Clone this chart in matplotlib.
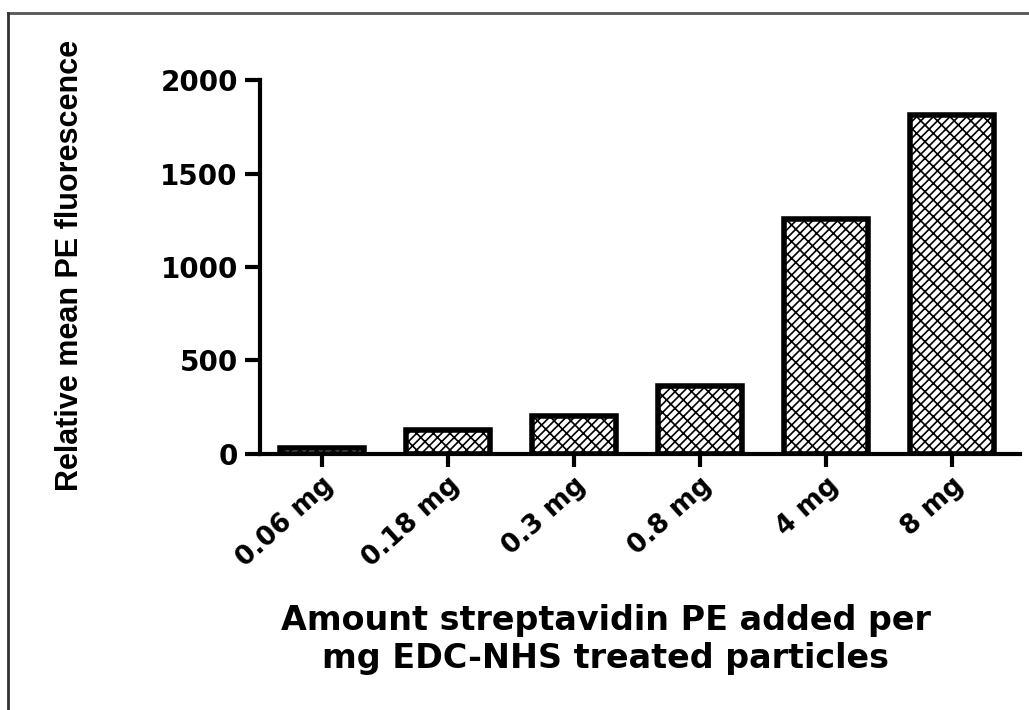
import matplotlib
matplotlib.use("Agg")
import matplotlib.pyplot as plt
from matplotlib.lines import Line2D

categories = ["0.06 mg", "0.18 mg", "0.3 mg", "0.8 mg", "4 mg", "8 mg"]
values = [30, 128, 205, 362, 1255, 1812]
yticks = [0, 500, 1000, 1500, 2000]

plt.rcParams['font.family'] = ['DejaVu Sans']
plt.rcParams['hatch.linewidth'] = 1.2

fig = plt.figure(figsize=(10.29, 7.10), dpi=100)
ax = fig.add_axes([0.2527, 0.3606, 0.9913 - 0.2527, 0.8873 - 0.3606])

x = list(range(len(categories)))
ax.bar(x, values, width=0.67, color='white', edgecolor='black',
       linewidth=4, hatch='////\\\\', zorder=2)

ax.set_xlim(-0.49, 5.54)
ax.set_ylim(0, 2000)
ax.set_yticks(yticks)
ax.set_yticklabels([str(v) for v in yticks], fontsize=20, fontweight='bold')
ax.set_xticks(x)
ax.set_xticklabels(categories, fontsize=19, fontweight='bold', rotation=42,
                   ha='right', va='top', rotation_mode='anchor')

for s in ['top', 'right']:
    ax.spines[s].set_visible(False)
for s in ['left', 'bottom']:
    ax.spines[s].set_linewidth(3)
ax.tick_params(axis='y', length=11, width=3, pad=5)
ax.tick_params(axis='x', length=9, width=3, pad=4)

ax.set_ylabel("Relative mean PE fluorescence", fontsize=22, fontweight='bold',
              family=['Liberation Sans', 'DejaVu Sans'], labelpad=0)
ax.yaxis.set_label_coords(-0.23, 0.505)
ax.set_xlabel("Amount streptavidin PE added per\nmg EDC-NHS treated particles",
              fontsize=24, fontweight='bold', linespacing=1.2)
ax.xaxis.set_label_coords(0.455, -0.40)

# outer frame lines
fig.add_artist(Line2D([8/1029, 1.0], [1 - 13/710, 1 - 13/710],
                      transform=fig.transFigure, color='#555555', linewidth=2))
fig.add_artist(Line2D([8/1029, 8/1029], [0, 1 - 13/710],
                      transform=fig.transFigure, color='#333333', linewidth=2))

fig.savefig("out.png", dpi=100)
